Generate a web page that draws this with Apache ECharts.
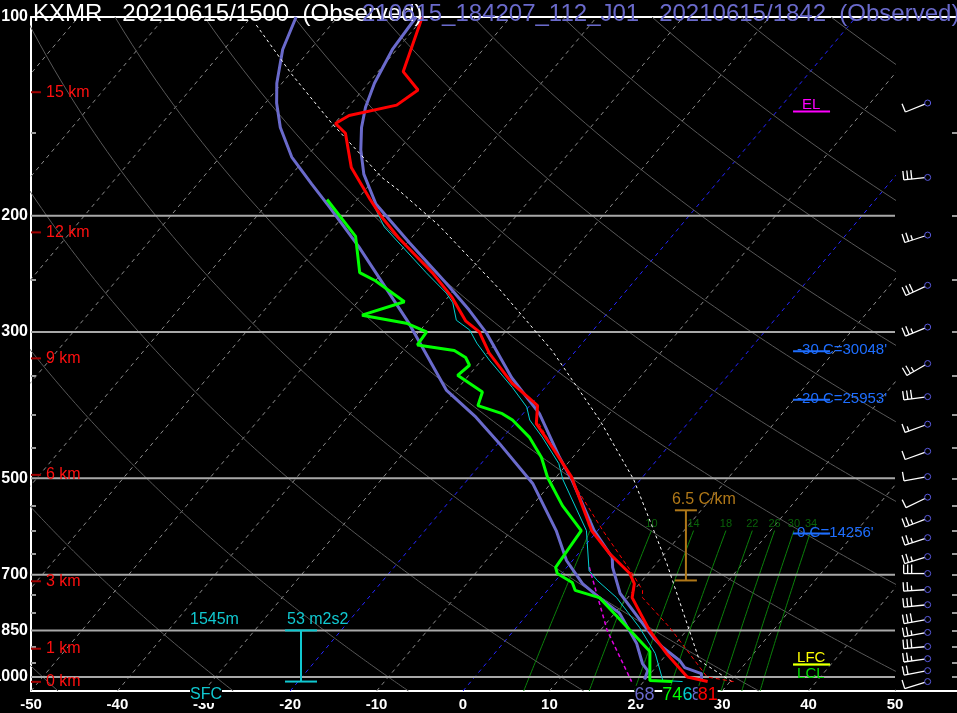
<!DOCTYPE html>
<html>
<head>
<meta charset="utf-8">
<title>KXMR Skew-T</title>
<script src="https://cdn.jsdelivr.net/npm/echarts@6.0.0/dist/echarts.min.js"></script>
<style>
html,body{margin:0;padding:0;background:#000;overflow:hidden;}
#chart{width:957px;height:713px;}
</style>
</head>
<body>
<div id="chart"></div>
<script>
// ---------------- DATA ----------------
// Observed sounding KXMR 20210615/1500 : temperature (red)
const tempP = [1016, 1000, 921, 850, 758, 722, 697, 650, 600, 498, 449, 413, 388, 378, 359, 323, 300, 289, 266, 244, 216, 200, 189, 169, 150, 145, 141, 136, 129, 121, 100];
const tempC = [27.4, 24.6, 19.9, 15.7, 10.5, 9.4, 7.9, 3.6, -0.7, -8.2, -13.3, -17.5, -19.1, -20.8, -24.2, -29.8, -33.0, -35.6, -39.5, -44.2, -51.5, -55.7, -58.5, -63.8, -67.8, -69.9, -69.1, -64.6, -63.6, -67.1, -70.2];
// dewpoint (green)
const dewP = [1016, 1012, 915, 758, 739, 719, 697, 682, 600, 550, 498, 465, 433, 408, 399, 388, 370, 349, 337, 328, 320, 314, 300, 291, 283, 270, 251, 244, 215, 189];
const dewC = [23.3, 20.6, 17.8, 6.7, 3.2, 2.1, -0.5, -1.3, -1.9, -6.5, -11.0, -13.6, -17.0, -20.6, -22.4, -26.0, -26.8, -31.3, -30.9, -32.1, -34.1, -38.9, -39.1, -42.3, -48.2, -44.6, -50.0, -52.6, -56.6, -63.5];
// wet-bulb (thin cyan)
const wetP = [1016, 1012, 921, 842, 758, 714, 690, 600, 502, 475, 433, 408, 390, 364, 331, 312, 298, 288, 271, 262, 244, 208, 193];
const wetC = [24.5, 22.1, 18.6, 14.3, 8.7, 4.8, 2.9, -1.3, -9.0, -11.0, -15.5, -18.6, -20.2, -23.8, -29.1, -32.2, -34.3, -36.8, -38.9, -40.6, -44.9, -54.2, -57.5];
// virtual temperature (thin red dashed)
const tvP = [1016, 1000, 842, 758, 739, 697, 600, 516, 413];
const tvC = [30.4, 26.9, 17.8, 11.7, 11.0, 8.2, 0.6, -6.7, -17.2];
// surface parcel trace (white dashed)
const parcelP = [1016, 944, 673, 502, 408, 320, 259, 207, 183, 175, 145, 122, 102.5];
const parcelC = [30.2, 24.4, 11.2, -0.8, -10.5, -22.8, -34.7, -48.0, -56.1, -59.3, -70.3, -79.8, -88.8];
// downdraft parcel (magenta dashed)
const ddP = [682, 850, 1016];
const ddC = [2.6, 10.8, 18.6];
// Second sounding 210615_184207_112_J01 (slate blue): temperature and dewpoint
const t2P = [1009, 988, 968, 944, 902, 871, 747, 682, 659, 600, 504, 465, 399, 352, 301, 278, 253, 220, 192, 173, 159, 147, 137, 126, 112, 100];
const t2C = [26.5, 25.9, 23.4, 22.1, 18.9, 16.8, 8.7, 5.3, 4.3, -0.4, -7.8, -11.5, -18.1, -24.8, -32.1, -36.3, -41.6, -49.7, -57.4, -61.7, -64.4, -66.5, -68.0, -69.3, -70.5, -70.9];
const d2P = [1009, 978, 954, 890, 801, 758, 722, 666, 600, 509, 443, 404, 368, 291, 223, 194, 179, 163, 147, 135, 126, 112, 100];
const d2C = [19.9, 19.4, 18.1, 15.5, 10.6, 6.7, 3.4, -0.7, -4.8, -12.1, -19.8, -25.1, -31.1, -42.0, -55.2, -62.5, -66.8, -71.7, -75.9, -78.7, -80.6, -83.2, -84.8];
// winds (direction deg, speed kt)
const windP = [135, 175, 214, 255, 295, 335, 376, 414, 455, 497, 534, 575, 615, 657, 697, 737, 777, 818, 856, 899, 938, 978, 1016];
const windDir = [248, 264, 252, 245, 248, 240, 262, 250, 250, 260, 244, 249, 252, 253, 270, 266, 264, 260, 260, 265, 262, 259, 253];
const windSpd = [10, 30, 25, 30, 25, 25, 30, 15, 10, 10, 10, 25, 25, 25, 30, 25, 30, 30, 25, 30, 25, 20, 10];
// axis / reference values
const xTicks = [-50, -40, -30, -20, -10, 0, 10, 20, 30, 40, 50];
const pLabels = [100, 200, 300, 500, 700, 850, 1000];
const pMinor = [150, 250, 350, 400, 450, 550, 600, 650, 750, 800, 900, 950];
const pAllTicks = [150, 200, 250, 300, 350, 400, 450, 500, 550, 600, 650, 700, 750, 800, 850, 900, 950, 1000];
const isobars = [200, 300, 500, 700, 850, 1000];
const mixW = [6, 10, 14, 18, 22, 26, 30, 34];
const kmText = ['0 km', '1 km', '3 km', '6 km', '9 km', '12 km', '15 km'];
const kmP = [1017, 906, 716, 494, 329, 212, 130];
const markText = ['EL', "-30 C=30048'", "-20 C=25953'", "0 C=14256'", 'LCL', 'LFC'];
const markP = [139, 321, 380, 606, 957, 957];
const lapseText = '6.5 C/km';
const lapseP = [714, 559];
const helText = ['1545m', '53 m2s2', 'SFC'];
const helP = [1016, 850];
const titleMain = 'KXMR   20210615/1500  (Observed)';
const title2 = '210615_184207_112_J01   20210615/1842  (Observed)';

// ---------------- geometry helpers ----------------
const S = 27.85, PB = 1050, PT = 100;
const L = Math.log;
const sk = (t, p) => t + S * L(PB / p);
const prof = (ps, ts) => ps.map((p, i) => [sk(ts[i], p), L(p)]);
const FONT = "'Liberation Sans', Arial, Helvetica, sans-serif";
const SLATE = '#6a6acb';
const X1MAX = -50 + 926 / 8.64;
const BARB_X = 53.78;

const series = [];
const line = (data, color, width, type, z) => series.push({
  type: 'line', xAxisIndex: 0, yAxisIndex: 0, data: data, symbol: 'none', silent: true,
  clip: true, animation: false, z: z || 2,
  lineStyle: { color: color, width: width, type: type || 'solid' }
});

// isotherms
for (let t = -130; t <= 50; t += 10) {
  const blue = (t === -20 || t === 0);
  line([[sk(t, PB), L(PB)], [sk(t, PT), L(PT)]], blue ? '#2424ff' : '#8c8c8c', 1, [4, 4], 1);
}
// dry adiabats
for (let th = -50; th <= 250; th += 20) {
  const pts = [];
  for (let p = PB; p >= PT; p -= 5) {
    const T = (th + 273.15) * Math.pow(p / 1000, 0.2857) - 273.15;
    pts.push([sk(T, p), L(p)]);
  }
  line(pts, '#585858', 1, 'solid', 1);
}
// mixing ratio lines
const tdFromW = (w, p) => { const e = w * p / (622 + w); const a = L(e / 6.112); return 243.5 * a / (17.67 - a); };
mixW.forEach(w => {
  const pts = [];
  for (let p = PB; p >= 600; p -= 10) pts.push([sk(tdFromW(w, p), p), L(p)]);
  line(pts, '#0b800b', 1, 'solid', 1);
});
series.push({
  type: 'scatter', xAxisIndex: 0, yAxisIndex: 0, silent: true, animation: false, z: 1,
  data: mixW.map(w => [sk(tdFromW(w, 600), 600), L(587), w]),
  symbolSize: 1, itemStyle: { color: 'rgba(0,0,0,0)' },
  label: { show: true, position: 'inside', formatter: p => String(p.value[2]), color: '#0b7a0b', fontSize: 11, fontFamily: FONT }
});
// isobars
isobars.forEach(p => line([[-50, L(p)], [50, L(p)]], '#a8a8a8', 2, 'solid', 3));

// profiles
line(prof(d2P, d2C), SLATE, 3, 'solid', 5);
line(prof(t2P, t2C), SLATE, 3, 'solid', 5);
line(prof(ddP, ddC), '#e000e0', 1.5, [4, 3], 6);
line(prof(parcelP, parcelC), '#ffffff', 1, [3, 3], 6);
line(prof(tvP, tvC), '#ff0000', 1, [4, 3], 6);
line(prof(wetP, wetC), '#00d0d0', 1, 'solid', 7);
line(prof(dewP, dewC), '#00ff00', 3, 'solid', 8);
line(prof(tempP, tempC), '#ff0000', 3, 'solid', 9);

const txt = (x, y, text, fill, size, align, valign, extra) => ({
  type: 'text', x: x, y: y,
  style: Object.assign({ text: text, fill: fill, fontSize: size, fontFamily: FONT,
    align: align, textAlign: align, verticalAlign: valign, textVerticalAlign: valign }, extra || {})
});
const seg = (x1, y1, x2, y2, stroke, w) => ({ type: 'line', shape: { x1, y1, x2, y2 }, style: { stroke: stroke, lineWidth: w } });

// km labels
series.push({
  type: 'custom', xAxisIndex: 0, yAxisIndex: 0, silent: true, animation: false, z: 12,
  data: kmP.map((p, i) => [-50, L(p), i]),
  renderItem: (params, api) => {
    const c = api.coord([api.value(0), api.value(1)]);
    const i = api.value(2);
    return { type: 'group', children: [
      seg(c[0], c[1], c[0] + 10, c[1], '#a00000', 2),
      txt(c[0] + 15, c[1], kmText[i], '#ff1010', 16, 'left', 'middle')
    ] };
  }
});

// level marks (EL, freezing levels, LCL/LFC)
const markColor = ['#ff00ff', '#1e6eff', '#1e6eff', '#1e6eff', '#00e000', '#ffff00'];
series.push({
  type: 'custom', xAxisIndex: 0, yAxisIndex: 0, silent: true, animation: false, z: 12,
  data: markP.map((p, i) => [38.2, L(p), i]),
  renderItem: (params, api) => {
    const c = api.coord([api.value(0), api.value(1)]);
    const i = api.value(2);
    const col = markColor[i];
    const ch = [seg(c[0], c[1], c[0] + 37, c[1], col, 2)];
    if (i === 0) ch.push(txt(c[0] + 9, c[1] + 1, markText[i], col, 15, 'left', 'bottom'));
    else if (i === 4) ch.push(txt(c[0] + 4, c[1] + 2, markText[i], col, 15, 'left', 'top'));
    else if (i === 5) ch.push(txt(c[0] + 4, c[1] + 1, markText[i], col, 15, 'left', 'bottom'));
    else ch.push(txt(c[0] + 4, c[1] - 1, markText[i], col, 15, 'left', 'middle'));
    return { type: 'group', children: ch };
  }
});

// lapse-rate bracket
series.push({
  type: 'custom', xAxisIndex: 0, yAxisIndex: 0, silent: true, animation: false, z: 12,
  data: [[25.8, L(lapseP[0]), L(lapseP[1])]],
  renderItem: (params, api) => {
    const a = api.coord([api.value(0), api.value(1)]);
    const b = api.coord([api.value(0), api.value(2)]);
    const col = '#b07818';
    return { type: 'group', children: [
      seg(a[0], a[1], b[0], b[1], col, 2),
      seg(a[0] - 11, a[1], a[0] + 11, a[1], col, 2),
      seg(b[0] - 11, b[1], b[0] + 11, b[1], col, 2),
      txt(b[0] - 14, b[1] - 3, lapseText, col, 16, 'left', 'bottom')
    ] };
  }
});

// helicity bracket + SFC
series.push({
  type: 'custom', xAxisIndex: 0, yAxisIndex: 0, silent: true, animation: false, z: 12,
  data: [[-18.75, L(helP[0]), L(helP[1]), L(PB)]],
  renderItem: (params, api) => {
    const a = api.coord([api.value(0), api.value(1)]);
    const b = api.coord([api.value(0), api.value(2)]);
    const bot = api.coord([api.value(0), api.value(3)]);
    const col = '#10c8d0';
    return { type: 'group', children: [
      seg(a[0], a[1], b[0], b[1], col, 2),
      seg(a[0] - 16, a[1], a[0] + 16, a[1], col, 2),
      seg(b[0] - 16, b[1], b[0] + 16, b[1], col, 2),
      txt(b[0] - 111, b[1] - 3, helText[0], col, 16, 'left', 'bottom'),
      txt(b[0] - 14, b[1] - 3, helText[1], col, 16, 'left', 'bottom'),
      txt(b[0] - 111, bot[1] + 4, helText[2], col, 16, 'left', 'middle', { backgroundColor: '#000' })
    ] };
  }
});

// surface values in deg F
const sfcVals = [
  [sk(t2C[0], t2P[0]), t2C[0], SLATE],
  [sk(d2C[0], d2P[0]), d2C[0], SLATE],
  [sk(wetC[0], wetP[0]), wetC[0], '#00d0d0'],
  [sk(dewC[0], dewP[0]), dewC[0], '#00ff00'],
  [sk(tempC[0], tempP[0]), tempC[0], '#ff0000']
];
series.push({
  type: 'custom', xAxisIndex: 0, yAxisIndex: 0, silent: true, animation: false, z: 13,
  data: sfcVals.map((v, i) => [v[0], L(PB), v[1], i]),
  renderItem: (params, api) => {
    const c = api.coord([api.value(0), api.value(1)]);
    const i = api.value(3);
    const f = Math.round(api.value(2) * 9 / 5 + 32);
    return txt(c[0], c[1] + 4, String(f), sfcVals[i][2], 18, 'center', 'middle', { backgroundColor: '#000' });
  }
});

// wind barbs
series.push({
  type: 'custom', xAxisIndex: 1, yAxisIndex: 1, silent: true, animation: false, z: 12,
  data: windP.map((p, i) => [BARB_X, L(p), windDir[i], windSpd[i]]),
  renderItem: (params, api) => {
    const c = api.coord([api.value(0), api.value(1)]);
    const dir = api.value(2) * Math.PI / 180;
    const spd = api.value(3);
    const ux = Math.sin(dir), uy = -Math.cos(dir);
    const nx = -uy, ny = ux;
    const len = 24;
    const tx = c[0] + ux * len, ty = c[1] + uy * len;
    const ch = [seg(c[0] + ux * 3, c[1] + uy * 3, tx, ty, '#ffffff', 1.3)];
    let rem = Math.round(spd / 5) * 5, pos = 0;
    while (rem >= 10) {
      const bx = tx - ux * pos, by = ty - uy * pos;
      ch.push(seg(bx, by, bx + nx * 9, by + ny * 9, '#ffffff', 1.3));
      pos += 4; rem -= 10;
    }
    if (rem >= 5) {
      if (pos === 0) pos = 4;
      const bx = tx - ux * pos, by = ty - uy * pos;
      ch.push(seg(bx, by, bx + nx * 5, by + ny * 5, '#ffffff', 1.3));
    }
    ch.push({ type: 'circle', shape: { cx: c[0], cy: c[1], r: 3 }, style: { fill: 'none', stroke: '#5a5ae0', lineWidth: 1 } });
    return { type: 'group', children: ch };
  }
});

const option = {
  backgroundColor: '#000',
  animation: false,
  grid: [
    { left: 31, top: 17, width: 864, height: 674, outerBoundsMode: 'none', containLabel: false },
    { left: 31, top: 17, width: 926, height: 674, outerBoundsMode: 'none', containLabel: false }
  ],
  xAxis: [
    { gridIndex: 0, type: 'value', min: -50, max: 50, show: false },
    { gridIndex: 1, type: 'value', min: -50, max: X1MAX, interval: 10, position: 'bottom',
      axisLine: { show: true, onZero: false, lineStyle: { color: '#ffffff', width: 2 } },
      axisTick: { show: false }, splitLine: { show: false },
      axisLabel: { color: '#ffffff', fontWeight: 'bold', fontSize: 15, fontFamily: FONT, margin: 6,
        showMaxLabel: false,
        formatter: v => (xTicks.indexOf(Math.round(v)) >= 0 && Math.abs(v - Math.round(v)) < 1e-6) ? String(Math.round(v)) : '' } },
    { gridIndex: 1, type: 'value', min: -50, max: X1MAX, position: 'top',
      axisLine: { show: true, onZero: false, lineStyle: { color: '#ffffff', width: 2 } },
      axisTick: { show: false }, axisLabel: { show: false }, splitLine: { show: false } }
  ],
  yAxis: [
    { gridIndex: 0, type: 'value', inverse: true, min: L(PT), max: L(PB), position: 'left',
      axisLine: { show: true, onZero: false, lineStyle: { color: '#ffffff', width: 2 } },
      axisTick: { show: true, inside: true, length: 5, customValues: pMinor.map(L), lineStyle: { color: '#9a9a9a', width: 2 } },
      splitLine: { show: false },
      axisLabel: { customValues: pLabels.map(L), color: '#ffffff', fontWeight: 'bold', fontSize: 16, fontFamily: FONT, margin: 3,
        formatter: v => String(Math.round(Math.exp(v))) } },
    { gridIndex: 1, type: 'value', inverse: true, min: L(PT), max: L(PB), position: 'right',
      axisLine: { show: false, onZero: false },
      axisTick: { show: true, inside: true, length: 5, customValues: pAllTicks.map(L), lineStyle: { color: '#9a9a9a', width: 2 } },
      splitLine: { show: false }, axisLabel: { show: false } }
  ],
  graphic: [
    { type: 'text', x: 33, y: 14, z: 50, style: { text: titleMain, fill: '#ffffff', fontSize: 24, fontFamily: FONT, align: 'left', verticalAlign: 'middle', textAlign: 'left', textVerticalAlign: 'middle' } },
    { type: 'text', x: 362, y: 14, z: 51, style: { text: title2, fill: SLATE, fontSize: 24, fontFamily: FONT, align: 'left', verticalAlign: 'middle', textAlign: 'left', textVerticalAlign: 'middle' } }
  ],
  series: series
};

const chart = echarts.init(document.getElementById('chart'), null, { renderer: 'canvas' });
chart.setOption(option);
</script>
</body>
</html>
